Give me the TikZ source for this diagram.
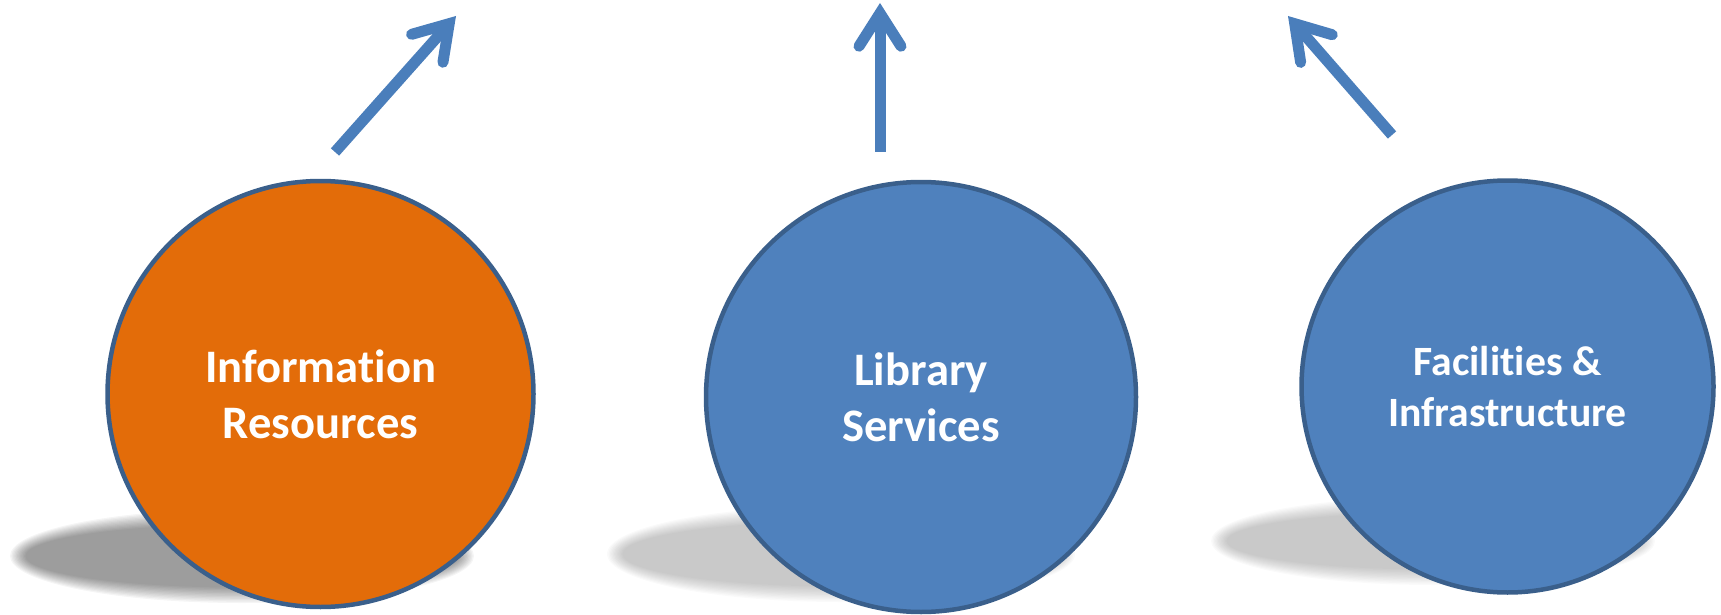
\documentclass[tikz,border=0pt]{standalone}
\usepackage{fontspec}
\setmainfont{Carlito}[Ligatures={NoCommon,NoRare,NoContextual}]
\usetikzlibrary{arrows.meta}
\definecolor{orangefill}{HTML}{E36C09}
\definecolor{bluefill}{HTML}{4F81BD}
\definecolor{rimblue}{HTML}{3A5F8B}
\definecolor{arrowblue}{HTML}{4A7EBB}
\tikzset{
  ball/.style={circle, draw=rimblue, line width=4.5pt, inner sep=0pt, text=white,
    font=\bfseries\fontsize{46.6}{56}\selectfont, align=center},
  uparrow/.style={draw=arrowblue, line width=11pt,
    -{Straight Barb[length=33pt, width=42pt, line cap=round, line join=miter]}},
}
\newcommand{\softshadow}[5]{%
  \foreach \k in {0,...,11}{%
    \fill[black, opacity=#5] (#1,#2) ellipse [x radius={(#3+8-1.4*\k)*1pt}, y radius={(#4+8-1.4*\k)*1pt}];
  }%
}
\begin{document}
\begin{tikzpicture}[x=1pt,y=-1pt]
\useasboundingbox (0,0) rectangle (1721,615);
% shadows
\softshadow{242}{556}{224}{39}{0.038}
\softshadow{841}{554}{226}{40}{0.019}
\softshadow{1433}{541}{214}{36}{0.019}
% circles
\node[ball, fill=orangefill, minimum size=426pt] (info) at (320.5,394) {Information\\Resources};
\node[ball, fill=bluefill, minimum size=430pt] (lib) at (921,397) {Library\\Services};
\node[ball, fill=bluefill, minimum size=412pt, font=\bfseries\fontsize{41.7}{51.7}\selectfont] (fac) at (1507.5,386.5) {Facilities \&\\Infrastructure};
% arrows
\coordinate (a1s) at (335,152);
\coordinate (a1e) at (456,16);
\coordinate (a2s) at (880,152);
\coordinate (a2e) at (880,3);
\coordinate (a3s) at (1392,135);
\coordinate (a3e) at (1288,16);
\draw[uparrow] (a1s) -- (a1e);
\draw[uparrow] (a2s) -- (a2e);
\draw[uparrow] (a3s) -- (a3e);
\end{tikzpicture}
\end{document}
